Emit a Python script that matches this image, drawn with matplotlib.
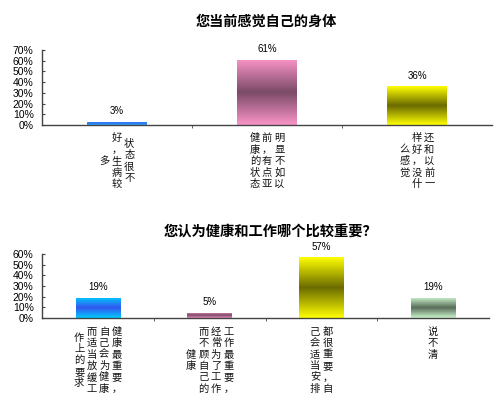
import numpy as np
import matplotlib
matplotlib.use("Agg")
import matplotlib.pyplot as plt
from matplotlib.colors import LinearSegmentedColormap

plt.rcParams['font.family'] = ['Noto Sans CJK SC', 'DejaVu Sans']

# ---- data ----
q1_title = "您当前感觉自己的身体"
q1_labels = [["状态很不", "好，生病较", "多"],
             ["明显不如以", "前，有点亚", "健康的状态"],
             ["还和以前一", "样好，没什", "么感觉"]]
q1_values = [3, 61, 36]
q1_ticks = [0, 10, 20, 30, 40, 50, 60, 70]

q2_title = "您认为健康和工作哪个比较重要？"
q2_labels = [["健康最重要，", "自己会为健康", "而适当放缓工", "作上的要求"],
             ["工作最重要，", "经常为了工作", "而不顾自己的", "健康"],
             ["都很重要，自", "己会适当安排"],
             ["说不清"]]
q2_values = [19, 5, 57, 19]
q2_ticks = [0, 10, 20, 30, 40, 50, 60]

# edge colour, centre colour of the gradient fill
q1_colors = [("#30b0ff", "#2f6cf0"), ("#fa94c8", "#7a4a66"), ("#ffff00", "#6b6b00")]
q2_colors = [("#00ccff", "#3355ee"), ("#f090c0", "#7a4a66"),
             ("#ffff00", "#6b6b00"), ("#ccf5cc", "#5a6e5a")]


def gradient_bars(ax, values, colors, width=0.4):
    xs = np.arange(len(values))
    bars = ax.bar(xs, values, width=width, color="none", edgecolor="none", zorder=2)
    grad = np.linspace(0, 1, 256).reshape(-1, 1)
    for bar, (edge, mid) in zip(bars, colors):
        cmap = LinearSegmentedColormap.from_list("g", [edge, mid, edge])
        x0 = bar.get_x()
        im = ax.imshow(grad, cmap=cmap, aspect="auto", zorder=2,
                       extent=(x0, x0 + bar.get_width(), 0, bar.get_height()),
                       origin="lower")
        im.set_clip_path(bar)
    return bars


def vertical_labels(ax, labels, colsp=8.8, rowsp=8.3, first=9.4):
    for i, cols in enumerate(labels):
        nmax = max(len(c) for c in cols)
        ncol = len(cols)
        for j, col in enumerate(cols):
            dx = (ncol - 1) / 2 * colsp - j * colsp
            for k, ch in enumerate(col):
                row = (nmax - len(col)) / 2 + k
                ax.annotate(ch, xy=(i, 0), xycoords=("data", "axes fraction"),
                            xytext=(dx, -(first + row * rowsp)),
                            textcoords="offset points", ha="center", va="center",
                            fontsize=7.4, color="#111111")


def style_axes(ax, n, ticks):
    ax.set_xlim(-0.5, n - 0.5)
    ax.set_ylim(0, ticks[-1])
    ax.set_yticks(ticks)
    ax.set_yticklabels([f"{t}%" for t in ticks], fontsize=7.5,
                       family=['Liberation Sans', 'DejaVu Sans'])
    ax.set_xticks([])
    ax.set_xticks(np.arange(n - 1) + 0.5, minor=True)
    ax.tick_params(axis="x", which="minor", length=2, direction="out", color="#444444")
    ax.tick_params(axis="y", length=2.5, direction="in", pad=6, color="#444444")
    for s in ["top", "right"]:
        ax.spines[s].set_visible(False)
    for s in ["left", "bottom"]:
        ax.spines[s].set_color("#444444")
        ax.spines[s].set_linewidth(1)


def value_labels(ax, values):
    for i, v in enumerate(values):
        ax.annotate(f"{v}%", xy=(i, v), xytext=(0, 4), textcoords="offset points",
                    ha="center", va="bottom", fontsize=7,
                    family=['Liberation Sans', 'DejaVu Sans'])


fig = plt.figure(figsize=(4.99, 4.05), dpi=100)

ax1 = fig.add_axes([42 / 499, 1 - 125 / 405, 450 / 499, 75 / 405])
gradient_bars(ax1, q1_values, q1_colors)
style_axes(ax1, len(q1_values), q1_ticks)
value_labels(ax1, q1_values)
vertical_labels(ax1, q1_labels)
fig.text(266 / 499, 1 - 22 / 405, q1_title, ha="center", va="center",
         fontsize=10.2, fontweight="bold")

ax2 = fig.add_axes([42 / 499, 1 - 318 / 405, 447 / 499, 64 / 405])
gradient_bars(ax2, q2_values, q2_colors)
style_axes(ax2, len(q2_values), q2_ticks)
value_labels(ax2, q2_values)
vertical_labels(ax2, q2_labels, colsp=9.0, rowsp=8.2, first=10)
fig.text(271 / 499, 1 - 232 / 405, q2_title, ha="center", va="center",
         fontsize=10.3, fontweight="bold")

fig.savefig("out.png", dpi=100, facecolor="white")
